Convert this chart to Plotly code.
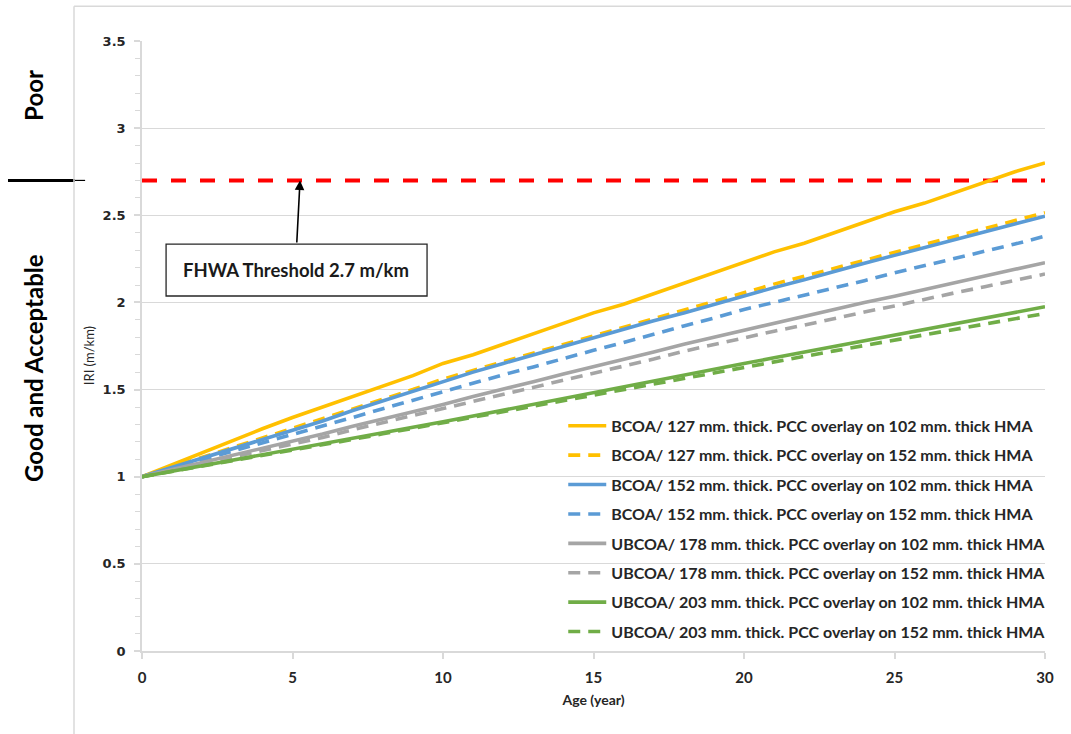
import plotly.graph_objects as go

age = list(range(0, 31))

bcoa_127_102 = [1.00, 1.07, 1.14, 1.21, 1.275, 1.34, 1.40, 1.46, 1.52, 1.58, 1.65, 1.70, 1.76, 1.82, 1.88, 1.94,
                1.99, 2.05, 2.11, 2.17, 2.23, 2.29, 2.34, 2.40, 2.46, 2.52, 2.57, 2.63, 2.69, 2.75, 2.80]
bcoa_127_152 = [1.00, 1.055, 1.11, 1.165, 1.22, 1.275, 1.33, 1.39, 1.445, 1.50, 1.56, 1.61, 1.66, 1.71, 1.76, 1.81,
                1.86, 1.91, 1.96, 2.01, 2.06, 2.105, 2.15, 2.195, 2.24, 2.29, 2.335, 2.38, 2.425, 2.47, 2.515]
bcoa_152_102 = [1.00, 1.053, 1.106, 1.159, 1.212, 1.265, 1.32, 1.38, 1.435, 1.49, 1.55, 1.60, 1.65, 1.70, 1.745, 1.795,
                1.845, 1.895, 1.94, 1.99, 2.04, 2.085, 2.13, 2.18, 2.225, 2.27, 2.315, 2.36, 2.405, 2.45, 2.495]
bcoa_152_152 = [1.00, 1.048, 1.096, 1.144, 1.192, 1.24, 1.29, 1.34, 1.39, 1.44, 1.49, 1.54, 1.585, 1.63, 1.68, 1.725,
                1.77, 1.82, 1.865, 1.91, 1.96, 2.00, 2.04, 2.085, 2.125, 2.17, 2.21, 2.25, 2.295, 2.335, 2.38]
ubcoa_178_102 = [1.00, 1.04, 1.08, 1.12, 1.16, 1.20, 1.245, 1.29, 1.33, 1.375, 1.415, 1.46, 1.50, 1.545, 1.59, 1.63,
                 1.675, 1.715, 1.76, 1.80, 1.845, 1.885, 1.92, 1.96, 2.00, 2.035, 2.075, 2.115, 2.15, 2.19, 2.228]
ubcoa_178_152 = [1.00, 1.037, 1.074, 1.111, 1.148, 1.185, 1.225, 1.27, 1.31, 1.35, 1.39, 1.43, 1.47, 1.515, 1.555, 1.595,
                 1.635, 1.675, 1.72, 1.76, 1.80, 1.835, 1.87, 1.91, 1.945, 1.98, 2.02, 2.055, 2.09, 2.125, 2.163]
ubcoa_203_102 = [1.00, 1.031, 1.062, 1.093, 1.124, 1.155, 1.187, 1.219, 1.251, 1.283, 1.315, 1.348, 1.382, 1.415, 1.449,
                 1.482, 1.516, 1.549, 1.583, 1.616, 1.65, 1.682, 1.715, 1.747, 1.78, 1.812, 1.845, 1.877, 1.91, 1.942, 1.975]
ubcoa_203_152 = [1.00, 1.03, 1.06, 1.09, 1.12, 1.15, 1.182, 1.214, 1.246, 1.278, 1.31, 1.342, 1.374, 1.406, 1.438,
                 1.47, 1.502, 1.534, 1.566, 1.598, 1.63, 1.66, 1.691, 1.722, 1.753, 1.784, 1.814, 1.845, 1.876, 1.906, 1.937]

series_names = [
    "BCOA/ 127 mm. thick. PCC overlay on 102 mm. thick HMA",
    "BCOA/ 127 mm. thick. PCC overlay on 152 mm. thick HMA",
    "BCOA/ 152 mm. thick. PCC overlay on 102 mm. thick HMA",
    "BCOA/ 152 mm. thick. PCC overlay on 152 mm. thick HMA",
    "UBCOA/ 178 mm. thick. PCC overlay on 102 mm. thick HMA",
    "UBCOA/ 178 mm. thick. PCC overlay on 152 mm. thick HMA",
    "UBCOA/ 203 mm. thick. PCC overlay on 102 mm. thick HMA",
    "UBCOA/ 203 mm. thick. PCC overlay on 152 mm. thick HMA",
]
series_values = [bcoa_127_102, bcoa_127_152, bcoa_152_102, bcoa_152_152,
                 ubcoa_178_102, ubcoa_178_152, ubcoa_203_102, ubcoa_203_152]
colors = ["#FFC000", "#FFC000", "#5B9BD5", "#5B9BD5", "#A5A5A5", "#A5A5A5", "#70AD47", "#70AD47"]
dashes = ["solid", "12px,8px"] * 4

threshold = 2.7
threshold_x = [0, 30]
x_ticks = [0, 5, 10, 15, 20, 25, 30]
y_ticks = [0, 0.5, 1, 1.5, 2, 2.5, 3, 3.5]

fig = go.Figure()

fig.add_trace(go.Scatter(x=threshold_x, y=[threshold, threshold], mode="lines",
                         line=dict(color="#FF0000", width=4, dash="15px,14px"),
                         showlegend=False, hoverinfo="skip"))

for i, (name, vals) in enumerate(zip(series_names, series_values)):
    fig.add_trace(go.Scatter(x=age, y=vals, mode="lines", name=name,
                             legendgroup=f"g{i}", legendrank=i + 1,
                             line=dict(color=colors[i], width=3.6, dash=dashes[i])))

font_main = "Lato, Calibri, 'Open Sans', sans-serif"
dark = "#262626"

fig.update_layout(
    width=1071, height=734,
    margin=dict(l=142, r=26, t=41, b=83),
    paper_bgcolor="white", plot_bgcolor="white",
    showlegend=True,
    legend=dict(x=0.4665, y=0.397, xanchor="left", yanchor="top",
                bgcolor="rgba(0,0,0,0)", tracegroupgap=5.6,
                font=dict(family=font_main, size=16, color=dark, weight="bold"),
                itemwidth=38, traceorder="grouped"),
    xaxis=dict(range=[0, 30], tickvals=x_ticks, showgrid=False, zeroline=False,
               showline=True, linecolor="#D9D9D9", linewidth=1.5,
               ticks="outside", ticklen=6, tickcolor="#D9D9D9", tickwidth=1.5,
               ticklabelstandoff=6,
               tickfont=dict(family=font_main, size=15, color=dark, weight="bold"),
               title=dict(text="Age (year)", font=dict(family=font_main, size=14, color=dark, weight="bold"),
                          standoff=10)),
    yaxis=dict(range=[0, 3.5], tickvals=y_ticks, ticktext=["0", "0.5", "1", "1.5", "2", "2.5", "3", "3.5"],
               showgrid=True, gridcolor="#D9D9D9", gridwidth=1.2, zeroline=False,
               showline=True, linecolor="#D9D9D9", linewidth=1.5,
               ticks="outside", ticklen=6, tickcolor="#D9D9D9", tickwidth=1.5,
               minor=dict(dtick=0.1, ticks="outside", ticklen=5, tickcolor="#D9D9D9", tickwidth=1.2,
                          showgrid=False),
               ticklabelstandoff=6,
               tickfont=dict(family="'DejaVu Sans', Verdana, sans-serif", size=13, color=dark, weight="bold")),
)

# y axis title placed to match reference
fig.add_annotation(x=-0.0587, y=0.485, xref="paper", yref="paper", xanchor="center", yanchor="middle",
                   text="IRI (m/km)", textangle=-90,
                   showarrow=False, font=dict(family=font_main, size=13, color=dark))

# threshold annotation box and arrow
fig.add_shape(type="rect", xref="x", yref="y", x0=0.80, x1=9.47, y0=2.037, y1=2.335,
              line=dict(color=dark, width=1.3), fillcolor="white", layer="above")
fig.add_annotation(x=5.13, y=2.186, xref="x", yref="y", text="FHWA Threshold 2.7 m/km",
                   showarrow=False, font=dict(family=font_main, size=18.5, color="#1a1a1a", weight="bold"))
fig.add_annotation(x=5.25, y=threshold, xref="x", yref="y", ax=5.14, ay=2.335, axref="x", ayref="y",
                   text="", showarrow=True, arrowhead=2, arrowsize=1.2, arrowwidth=1.6, arrowcolor="#000000",
                   standoff=0, startstandoff=0)

# left-side condition labels
fig.add_annotation(x=-0.1196, y=0.91, xref="paper", yref="paper", xanchor="center", yanchor="middle",
                   text="Poor", textangle=-90,
                   showarrow=False, font=dict(family=font_main, size=24, color="#000000", weight="bold"))
fig.add_annotation(x=-0.1196, y=0.464, xref="paper", yref="paper", xanchor="center", yanchor="middle",
                   text="Good and Acceptable", textangle=-90, showarrow=False,
                   font=dict(family=font_main, size=24, color="#000000", weight="bold"))

# separator line at threshold level on the left
fig.add_shape(type="line", xref="paper", yref="y", x0=-0.1484, x1=-0.0742, y0=threshold, y1=threshold,
              line=dict(color="#000000", width=3))
fig.add_shape(type="line", xref="paper", yref="y", x0=-0.0742, x1=-0.063, y0=threshold, y1=threshold,
              line=dict(color="#000000", width=1.2))

# frame lines of the chart area
fig.add_shape(type="line", xref="paper", yref="paper", x0=-0.0753, x1=-0.0753, y0=-0.14, y1=1.057,
              line=dict(color="#D9D9D9", width=1.5))
fig.add_shape(type="line", xref="paper", yref="paper", x0=-0.0753, x1=1.03, y0=1.057, y1=1.057,
              line=dict(color="#D9D9D9", width=1.5))

fig.write_html("out.html")
